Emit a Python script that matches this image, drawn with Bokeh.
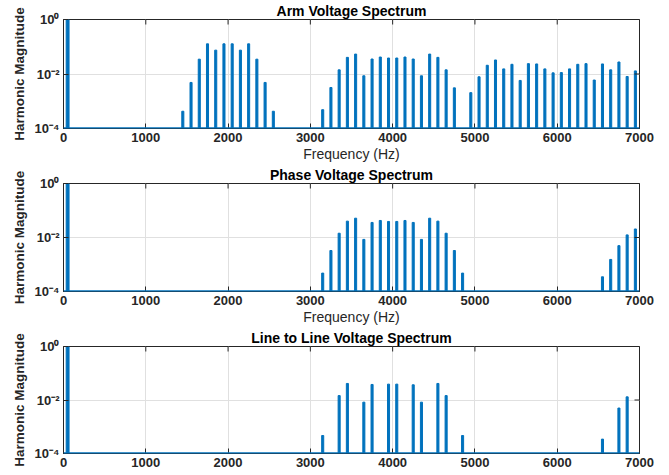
import math
from bokeh.plotting import figure
from bokeh.layouts import column
from bokeh.models import Range1d, FixedTicker, CustomJSTickFormatter, Span
from bokeh.embed import file_html
from bokeh.resources import INLINE

FLOOR = 1e-4

fund_freq = [50]
fund_mag = [1.0]

arm_freq = [1450, 1550, 1650, 1750, 1850, 1950, 2050, 2150, 2250, 2350, 2450, 2550,
            3150, 3250, 3350, 3450, 3550, 3650, 3750, 3850, 3950, 4050, 4150, 4250,
            4350, 4450, 4550, 4650, 4750,
            4950, 5050, 5150, 5250, 5350, 5450, 5550, 5650, 5750, 5850, 5950, 6050,
            6150, 6250, 6350, 6450, 6550, 6650, 6750, 6850, 6950]
arm_mag = [4.3e-4, 4.9e-3, 0.035, 0.128, 0.075, 0.128, 0.128, 0.075, 0.128, 0.035, 4.9e-3, 4.3e-4,
           4.9e-4, 3.2e-3, 0.0142, 0.0408, 0.0538, 0.0086, 0.0355, 0.0419, 0.0386, 0.0386, 0.0419, 0.0355,
           0.0086, 0.0538, 0.0408, 0.0142, 0.0031,
           0.00207, 0.0079, 0.0209, 0.0327, 0.0154, 0.0227, 0.0058, 0.024, 0.0234, 0.0154, 0.011, 0.0113,
           0.0154, 0.0227, 0.024, 0.006, 0.0234, 0.0142, 0.0276, 0.0081, 0.013]

phase_freq = [3150, 3250, 3350, 3450, 3550, 3650, 3750, 3850, 3950, 4050, 4150, 4250,
              4350, 4450, 4550, 4650, 4750, 4850,
              6550, 6650, 6750, 6850, 6950]
phase_mag = [4.8e-4, 3.3e-3, 0.0144, 0.0404, 0.0519, 0.0085, 0.0361, 0.0427, 0.0393, 0.0393, 0.0427, 0.0361,
             0.0085, 0.0519, 0.0404, 0.0144, 3.3e-3, 4.8e-4,
             3.5e-4, 1.54e-3, 5.0e-3, 0.0125, 0.0207]

ll_freq = [3150, 3350, 3450, 3650, 3750, 3950, 4050, 4250, 4350, 4550, 4650, 4850,
           6550, 6750, 6850]
ll_mag = [4.7e-4, 0.0146, 0.0415, 0.0083, 0.0381, 0.0392, 0.0392, 0.037, 0.0083, 0.0415, 0.0146, 4.7e-4,
          3.45e-4, 5.0e-3, 0.0131]

x_ticks = [0, 1000, 2000, 3000, 4000, 5000, 6000, 7000]
y_ticks = [1e-4, 1e-2, 1.0]
X_MAX = 7000
Y_MAX = 1.0

BLUE = "#0072BD"
DARK = "#262626"
GRID = "#e0e0e0"
FONT = "Liberation Sans"

FMT_CODE = """
const e = Math.round(Math.log10(tick));
const sup = {'-':'\u207b','0':'\u2070','1':'\u00b9','2':'\u00b2','3':'\u00b3','4':'\u2074','5':'\u2075','6':'\u2076','7':'\u2077','8':'\u2078','9':'\u2079'};
return '10' + String(e).split('').map(c => sup[c]).join('');
"""


def panel(title, freqs, mags, height, top, bottom, xlabel):
    p = figure(width=669, height=height, y_axis_type="log",
               x_range=Range1d(0, X_MAX), y_range=Range1d(FLOOR, Y_MAX),
               output_backend="svg", toolbar_location=None,
               min_border_left=63, min_border_right=30,
               min_border_top=top, min_border_bottom=bottom)
    p.title.text = title
    p.title.align = "center"
    p.title.text_font = FONT
    p.title.text_font_size = "14px"
    p.title.text_font_style = "bold"
    p.title.text_color = "black"
    p.title.standoff = 1
    p.outline_line_color = DARK
    p.background_fill_color = "white"

    for ax in (p.xaxis[0], p.yaxis[0]):
        ax.major_tick_in = 5
        ax.major_tick_out = 0
        ax.minor_tick_in = 0
        ax.minor_tick_out = 0
        ax.axis_line_color = DARK
        ax.major_tick_line_color = DARK
        ax.major_label_text_font = FONT
        ax.major_label_text_font_size = "13px"
        ax.major_label_text_font_style = "bold"
        ax.major_label_text_color = DARK
        ax.axis_label_text_font = FONT
        ax.axis_label_text_color = DARK
    p.xaxis.major_label_standoff = 4
    p.xaxis.axis_label_standoff = 1
    p.xaxis.axis_label_text_font_size = "14px"
    p.xaxis.axis_label_text_font_style = "normal"
    p.yaxis.major_label_standoff = 4
    p.yaxis.axis_label_standoff = 5
    p.yaxis.axis_label_text_font_size = "13.5px"
    p.yaxis.axis_label_text_font_style = "bold"
    p.xaxis.ticker = FixedTicker(ticks=x_ticks)
    p.yaxis.ticker = FixedTicker(ticks=y_ticks)
    p.yaxis.formatter = CustomJSTickFormatter(code=FMT_CODE)
    p.yaxis.axis_label = "Harmonic Magnitude"
    if xlabel:
        p.xaxis.axis_label = "Frequency (Hz)"

    p.xgrid.ticker = FixedTicker(ticks=x_ticks)
    p.ygrid.ticker = FixedTicker(ticks=y_ticks)
    p.xgrid.grid_line_color = GRID
    p.ygrid.grid_line_color = GRID
    p.xgrid.minor_grid_line_color = None
    p.ygrid.minor_grid_line_color = None

    p.vbar(x=fund_freq, top=fund_mag, bottom=FLOOR, width=35, color=BLUE)
    p.vbar(x=freqs, top=mags, bottom=FLOOR, width=25, color=BLUE)
    p.add_layout(Span(location=FLOOR, dimension="width", line_color=BLUE, line_width=2.5))

    # box ticks on the top and right edges (MATLAB "box on")
    p.scatter(x=x_ticks, y=[Y_MAX] * len(x_ticks), marker="dash", angle=math.pi / 2,
              size=10, line_color=DARK, line_width=1)
    p.scatter(x=[X_MAX] * len(y_ticks), y=y_ticks, marker="dash",
              size=10, line_color=DARK, line_width=1)
    return p


p1 = panel("Arm Voltage Spectrum", arm_freq, arm_mag, 164, 19, 35, True)
p2 = panel("Phase Voltage Spectrum", phase_freq, phase_mag, 163, 18, 35, True)
p3 = panel("Line to Line Voltage Spectrum", ll_freq, ll_mag, 148, 17, 22, False)

layout = column(p1, p2, p3, spacing=0)
open("out.html", "w").write(file_html(layout, INLINE))
